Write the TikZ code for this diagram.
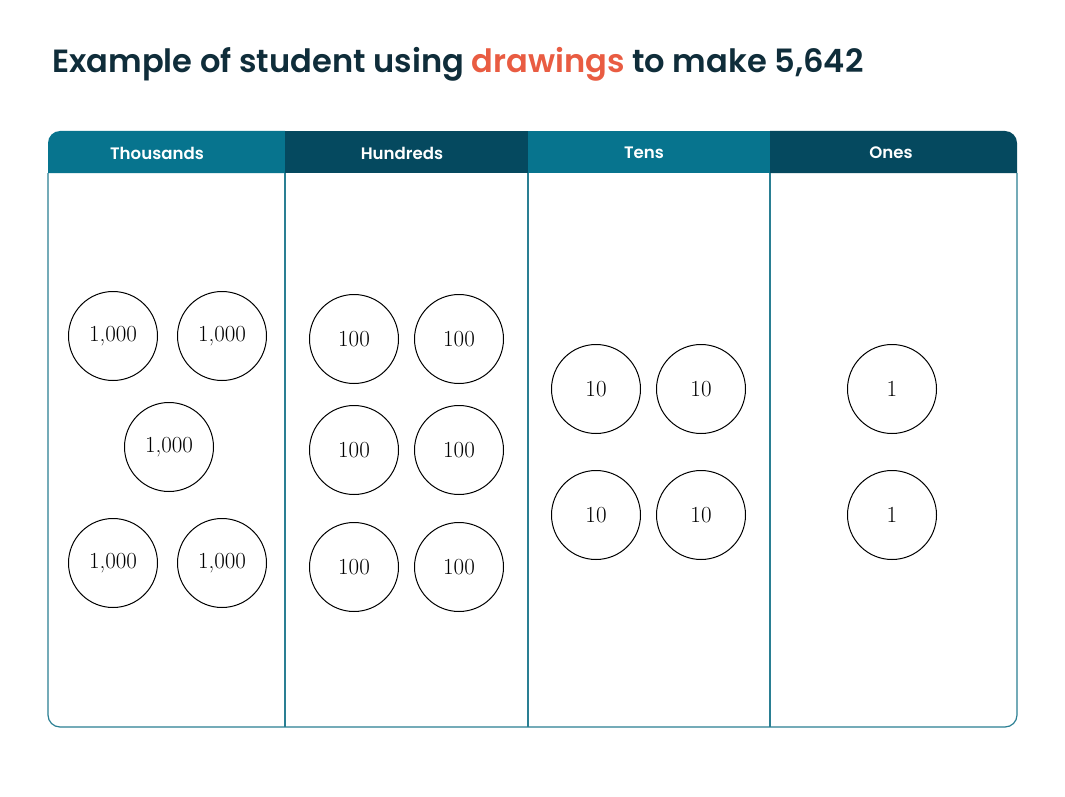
\documentclass[tikz,border=0pt]{standalone}
\usepackage{fontspec}
\setsansfont{Poppins}[BoldFont={Poppins SemiBold}]
\definecolor{titlec}{HTML}{0F2D3A}
\definecolor{orangec}{HTML}{E95C42}
\definecolor{lightteal}{HTML}{07748E}
\definecolor{darkteal}{HTML}{05495F}
\definecolor{linec}{HTML}{2A7F93}
\begin{document}
\begin{tikzpicture}[x=1pt,y=-1pt,
  coin/.style={circle,draw=black,line width=1pt,minimum size=89pt,inner sep=0pt,font=\fontsize{23}{23}\selectfont},
  headtext/.style={text=white,font=\sffamily\bfseries\fontsize{16.6}{17}\selectfont}]
\useasboundingbox (0,0) rectangle (1065,797);
\fill[white] (0,0) rectangle (1065,797);
\node[anchor=base west,inner sep=0pt,text=titlec,font=\sffamily\bfseries\fontsize{32.1}{36}\selectfont] (title) at (52,73) {Example of student using \textcolor{orangec}{drawings} to make 5,642};
% headers
\fill[lightteal] (48,173) -- (48,143) arc[start angle=180,end angle=270,radius=12] -- (285,131) -- (285,173) -- cycle;
\fill[darkteal] (285,131) rectangle (528,173);
\fill[lightteal] (528,131) rectangle (770,173);
\fill[darkteal] (770,173) -- (770,131) -- (1005,131) arc[start angle=270,end angle=360,radius=12] -- (1017,173) -- cycle;
\node[headtext] (h1) at (157,153) {Thousands};
\node[headtext] (h2) at (402,153) {Hundreds};
\node[headtext] (h3) at (644,153) {Tens};
\node[headtext] (h4) at (891,153) {Ones};
% body
\draw[linec,line width=1.2pt,rounded corners=12pt] (48,173) -- (48,727) -- (1017,727) -- (1017,173);
\draw[linec,line width=1.2pt] (285,173) -- (285,727) (528,173) -- (528,727) (770,173) -- (770,727);
% coins
\node[coin] (t1) at (113,336) {1,000};
\node[coin] (t2) at (222,336) {1,000};
\node[coin] (t3) at (169,447) {1,000};
\node[coin] (t4) at (113,563) {1,000};
\node[coin] (t5) at (222,563) {1,000};
\node[coin] (u1) at (354,339) {100};
\node[coin] (u2) at (459,339) {100};
\node[coin] (u3) at (354,450) {100};
\node[coin] (u4) at (459,450) {100};
\node[coin] (u5) at (354,567) {100};
\node[coin] (u6) at (459,567) {100};
\node[coin] (e1) at (596,389) {10};
\node[coin] (e2) at (701,389) {10};
\node[coin] (e3) at (596,515) {10};
\node[coin] (e4) at (701,515) {10};
\node[coin] (o1) at (892,389) {1};
\node[coin] (o2) at (892,515) {1};
\end{tikzpicture}
\end{document}
